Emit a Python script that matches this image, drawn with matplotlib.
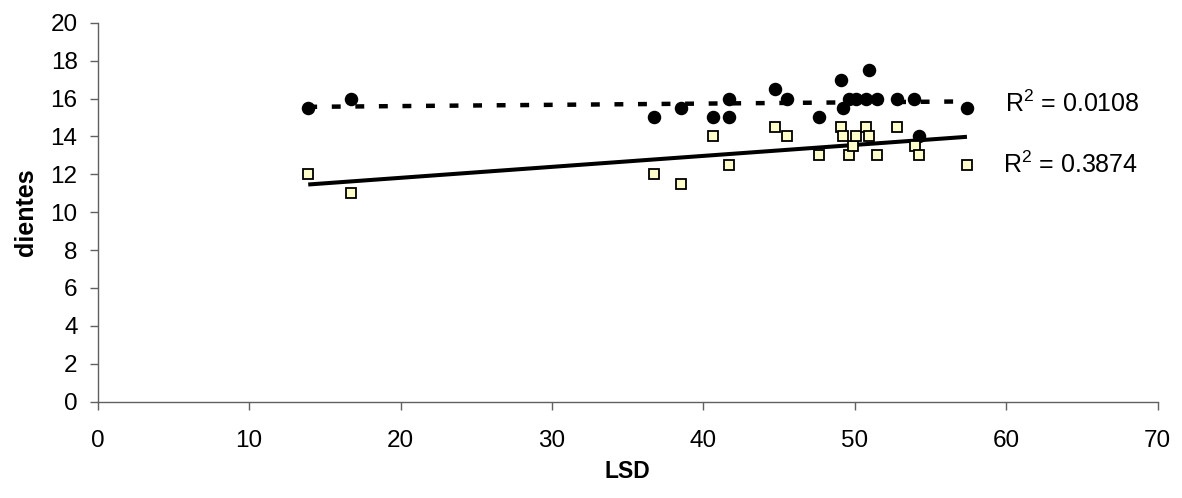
import numpy as np
import matplotlib
matplotlib.use("Agg")
import matplotlib.pyplot as plt

plt.rcParams['font.family'] = ['Liberation Sans', 'DejaVu Sans']
plt.rcParams['mathtext.fontset'] = 'custom'
plt.rcParams['mathtext.rm'] = 'Liberation Sans'
plt.rcParams['mathtext.it'] = 'Liberation Sans:italic'
plt.rcParams['mathtext.bf'] = 'Liberation Sans:bold'

# circles (black) series
lsd_circ = [13.9, 16.7, 36.7, 38.5, 40.6, 41.7, 41.7, 44.7, 45.5, 47.6, 49.1,
            49.2, 49.6, 50.1, 50.7, 50.9, 51.45, 52.8, 53.9, 54.2, 57.4]
dientes_circ = [15.5, 16, 15, 15.5, 15, 16, 15, 16.5, 16, 15, 17,
                15.5, 16, 16, 16, 17.5, 16, 16, 16, 14, 15.5]

# squares (light yellow) series
lsd_sq = [13.9, 16.7, 36.7, 38.5, 40.6, 41.7, 44.7, 45.5, 47.6, 49.1, 49.2,
          49.6, 49.9, 50.1, 50.7, 50.9, 51.45, 52.8, 54.0, 54.2, 57.4]
dientes_sq = [12, 11, 12, 11.5, 14, 12.5, 14.5, 14, 13, 14.5, 14,
              13, 13.5, 14, 14.5, 14, 13, 14.5, 13.5, 13, 12.5]

r2_labels = ["R$^2$ = 0.0108", "R$^2$ = 0.3874"]

fig = plt.figure(figsize=(11.82, 4.98), dpi=100)
ax = fig.add_axes([0.0827, 0.1934, 0.8968, 0.761])

def trend(x, y):
    x = np.asarray(x); y = np.asarray(y)
    m, b = np.polyfit(x, y, 1)
    xs = np.array([x.min(), x.max()])
    return xs, m * xs + b

xc, yc = trend(lsd_circ, dientes_circ)
xs_, ys_ = trend(lsd_sq, dientes_sq)

ax.plot(xc, yc, color='black', lw=3.2, linestyle=(0, (2.0, 3.3)),
        dash_capstyle='butt', zorder=2)
ax.plot(xs_, ys_, color='black', lw=2.9, solid_capstyle='butt', zorder=2)

ax.plot(lsd_circ, dientes_circ, 'o', color='black', markersize=8.7, zorder=3,
        linestyle='none')
ax.plot(lsd_sq, dientes_sq, 's', markerfacecolor='#FFFFCC', markeredgecolor='black',
        markeredgewidth=1.3, markersize=7.8, zorder=3, linestyle='none')

ax.text(59.9, 15.7, r2_labels[0], fontsize=18, va='center', ha='left')
ax.text(59.8, 12.5, r2_labels[1], fontsize=18, va='center', ha='left')

ax.set_xlim(0, 70)
ax.set_ylim(0, 20)
ax.set_xticks(np.arange(0, 71, 10))
ax.set_yticks(np.arange(0, 21, 2))

for s in ['top', 'right']:
    ax.spines[s].set_visible(False)
for s in ['left', 'bottom']:
    ax.spines[s].set_color('#606060')
    ax.spines[s].set_linewidth(1.0)

ax.tick_params(axis='both', direction='out', length=5.5, width=1.0,
               color='#606060', labelsize=17.5)
ax.tick_params(axis='y', pad=9)
ax.tick_params(axis='x', pad=15)

ax.set_xlabel('LSD', fontsize=16.5, fontweight='bold', labelpad=6)
ax.set_ylabel('dientes', fontsize=18, fontweight='bold', labelpad=9)

fig.savefig('out.png', dpi=100)
